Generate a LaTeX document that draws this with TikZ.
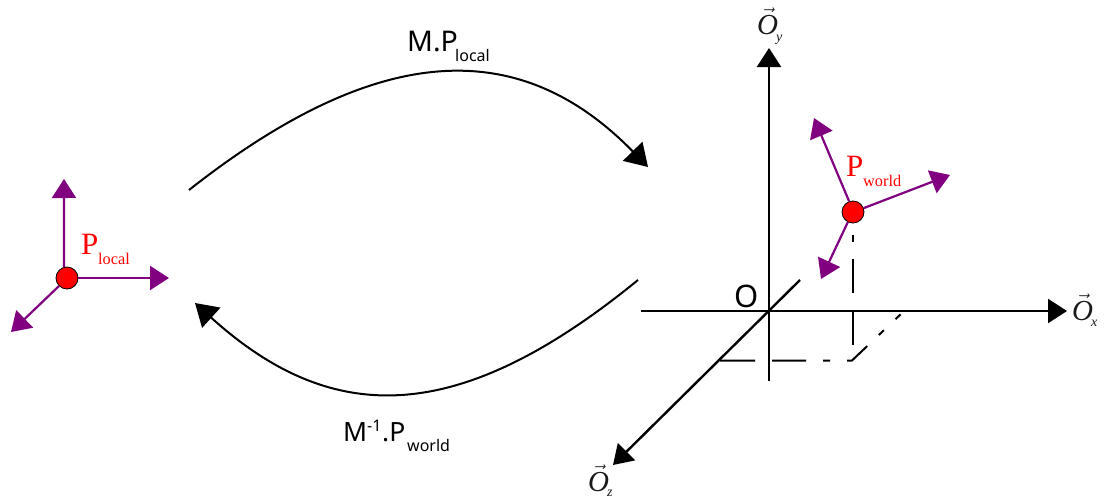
\documentclass[tikz,border=0pt]{standalone}
\usepackage{fontspec}
\setmainfont{Liberation Serif}
\newfontfamily\lblfont{Noto Sans}
\usetikzlibrary{arrows.meta}
\definecolor{vecpurple}{RGB}{128,0,128}
\tikzset{
  txt/.style={inner sep=0pt,anchor=base west},
  redbig/.style={txt,text=red,font=\fontsize{31}{31}\selectfont},
  redsub/.style={txt,text=red,font=\fontsize{16.3}{16.3}\selectfont},
  lblbig/.style={txt,font=\lblfont\fontsize{28.5}{28.5}\selectfont},
  lblmid/.style={txt,font=\lblfont\fontsize{26.5}{26.5}\selectfont},
  lblsub/.style={txt,font=\lblfont\fontsize{16}{16}\selectfont},
  originlbl/.style={txt,font=\lblfont\fontsize{31}{31}\selectfont},
  axbig/.style={txt,text=black!90,font=\itshape\fontsize{29}{29}\selectfont},
  axsub/.style={txt,text=black!90,font=\itshape\fontsize{14}{14}\selectfont},
  pointdot/.style={circle,draw=black,line width=0.8pt,fill=red,minimum size=22pt,inner sep=0pt},
  vecarrow/.style={draw=vecpurple,line width=2.2pt,-{Triangle[length=19pt,width=24pt,fill=vecpurple]}},
  axisarrow/.style={draw=black,line width=2.4pt,-{Triangle[length=19pt,width=24pt,fill=black]}},
  curvearrow/.style={draw=black,line width=2pt,-{Triangle[length=22pt,width=27pt,fill=black]}},
  guide/.style={draw=black,line width=2pt},
}
\newcommand{\vecO}{$\vec{\hbox{\itshape O}}$}
\begin{document}
\begin{tikzpicture}[x=1pt,y=-1pt]
\useasboundingbox (0,0) rectangle (1104,498);
% points
\node[pointdot] (pl) at (67,278) {};
\node[pointdot] (pw) at (853,212) {};
% local frame
\coordinate (lu) at (64,179);
\coordinate (lr) at (169,278);
\coordinate (ld) at (11,332);
\draw[vecarrow] (pl.105) -- (lu);
\draw[vecarrow] (pl.east) -- (lr);
\draw[vecarrow] (pl.225) -- (ld);
% world frame
\coordinate (wu) at (814,118);
\coordinate (wr) at (950,175);
\coordinate (wd) at (821,279);
\draw[vecarrow] (pw.110) -- (wu);
\draw[vecarrow] (pw.20) -- (wr);
\draw[vecarrow] (pw.243) -- (wd);
% axes
\coordinate (yb) at (769,381);
\coordinate (yt) at (769,48);
\coordinate (xl) at (641,311);
\coordinate (xr) at (1067,311);
\coordinate (zb) at (800,280);
\coordinate (zt) at (613,465);
\draw[axisarrow] (yb) -- (yt);
\draw[axisarrow] (xl) -- (xr);
\draw[axisarrow] (zb) -- (zt);
% guides
\coordinate (g1) at (852.5,235);
\coordinate (g2) at (852.5,345);
\coordinate (g3) at (720,360.5);
\coordinate (g4) at (852,360.5);
\coordinate (g5) at (902,313);
\draw[guide,dash pattern=on 7pt off 17pt on 34pt off 18pt on 34pt off 20pt] (g1) -- (g2);
\draw[guide,dash pattern=on 35pt off 17pt on 34pt off 17pt on 7pt off 17pt on 26pt off 16pt on 7pt off 16pt on 7pt off 20pt] (g3) -- (g4) -- (g5);
% transforms
\coordinate (c1s) at (189,190);
\coordinate (c1e) at (648,167);
\coordinate (c2s) at (638,280);
\coordinate (c2e) at (195,303);
\draw[curvearrow] (c1s) .. controls (382,38) and (522,38) .. (c1e);
\draw[curvearrow] (c2s) .. controls (458,427) and (332,427) .. (c2e);
% labels
\node[lblbig] (t1) at (407,51) {M.P};
\node[lblsub] (t1s) at (455,61) {local};
\node[lblmid] (t2) at (343,441) {M};
\node[lblsub] (t2u) at (367,431) {-1};
\node[lblmid] (t2b) at (382,441) {.P};
\node[lblsub] (t2s) at (407,451) {world};
\node[originlbl] (o) at (734,307) {O};
\node[redbig] (pl1) at (81,254) {P};
\node[redsub] (pl2) at (98,264) {local};
\node[redbig] (pw1) at (846,176) {P};
\node[redsub] (pw2) at (863,186) {world};
\node[axbig] (oy) at (757,34) {\vecO};
\node[axsub] (oys) at (776,41) {y};
\node[axbig] (ox) at (1072,320) {\vecO};
\node[axsub] (oxs) at (1091,326) {x};
\node[axbig] (oz) at (588,491) {\vecO};
\node[axsub] (ozs) at (607,496) {z};
\end{tikzpicture}
\end{document}
